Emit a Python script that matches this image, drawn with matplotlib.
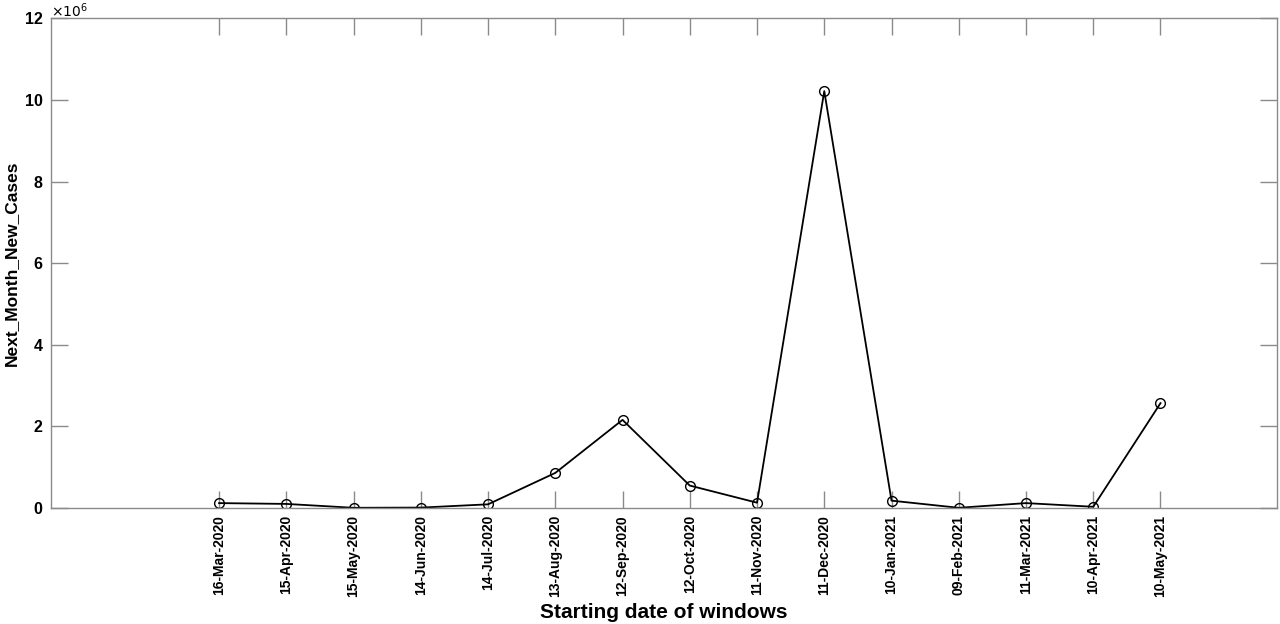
import numpy as np
import matplotlib
matplotlib.use('Agg')
import matplotlib.pyplot as plt

# Window start dates (30-day steps) and next-month new cases
dates = ['2020-03-16', '2020-04-15', '2020-05-15', '2020-06-14', '2020-07-14',
         '2020-08-13', '2020-09-12', '2020-10-12', '2020-11-11', '2020-12-11',
         '2021-01-10', '2021-02-09', '2021-03-11', '2021-04-10', '2021-05-10']
labels = ['16-Mar-2020', '15-Apr-2020', '15-May-2020', '14-Jun-2020', '14-Jul-2020',
          '13-Aug-2020', '12-Sep-2020', '12-Oct-2020', '11-Nov-2020', '11-Dec-2020',
          '10-Jan-2021', '09-Feb-2021', '11-Mar-2021', '10-Apr-2021', '10-May-2021']
cases = [0.12e6, 0.10e6, 0.005e6, 0.01e6, 0.09e6,
         0.86e6, 2.16e6, 0.55e6, 0.13e6, 10.22e6,
         0.18e6, 0.005e6, 0.12e6, 0.03e6, 2.57e6]

plt.rcParams['font.family'] = ['Liberation Sans', 'DejaVu Sans']

x = np.array(dates, dtype='datetime64[D]').astype('O')

fig = plt.figure(figsize=(12.8, 6.24), dpi=100)
ax = fig.add_axes([0.0398, 0.1859, 0.9579, 0.7845])

ax.plot(x, cases, color='black', linewidth=1.3, marker='o', markersize=7,
        markerfacecolor='none', markeredgecolor='black', markeredgewidth=1.0)

ax.set_xlim(np.datetime64('2020-01-01').astype('O'), np.datetime64('2021-07-01').astype('O'))
ax.set_ylim(0, 12e6)
ax.set_xticks(x)
ax.set_xticklabels(labels, rotation=90, fontsize=10, fontweight='bold')
ax.set_yticks(np.arange(0, 13e6, 2e6))
ax.set_yticklabels([str(v) for v in range(0, 13, 2)], fontsize=11.5, fontweight='bold')

for s in ax.spines.values():
    s.set_color('#8a8a8a')
    s.set_linewidth(1.0)
ax.tick_params(direction='in', length=12, width=1.0, color='#8a8a8a',
               top=True, right=True)
ax.tick_params(axis='y', pad=6)
ax.tick_params(axis='x', pad=5)

ax.text(0.0, 1.004, r'$\times10^{6}$', transform=ax.transAxes, fontsize=10,
        ha='left', va='baseline')

ax.set_xlabel('Starting date of windows', fontsize=15, fontweight='bold', labelpad=4)
ax.set_ylabel('Next_Month_New_Cases', fontsize=12.5, fontweight='bold', labelpad=4)

plt.savefig('out.png', dpi=100)
